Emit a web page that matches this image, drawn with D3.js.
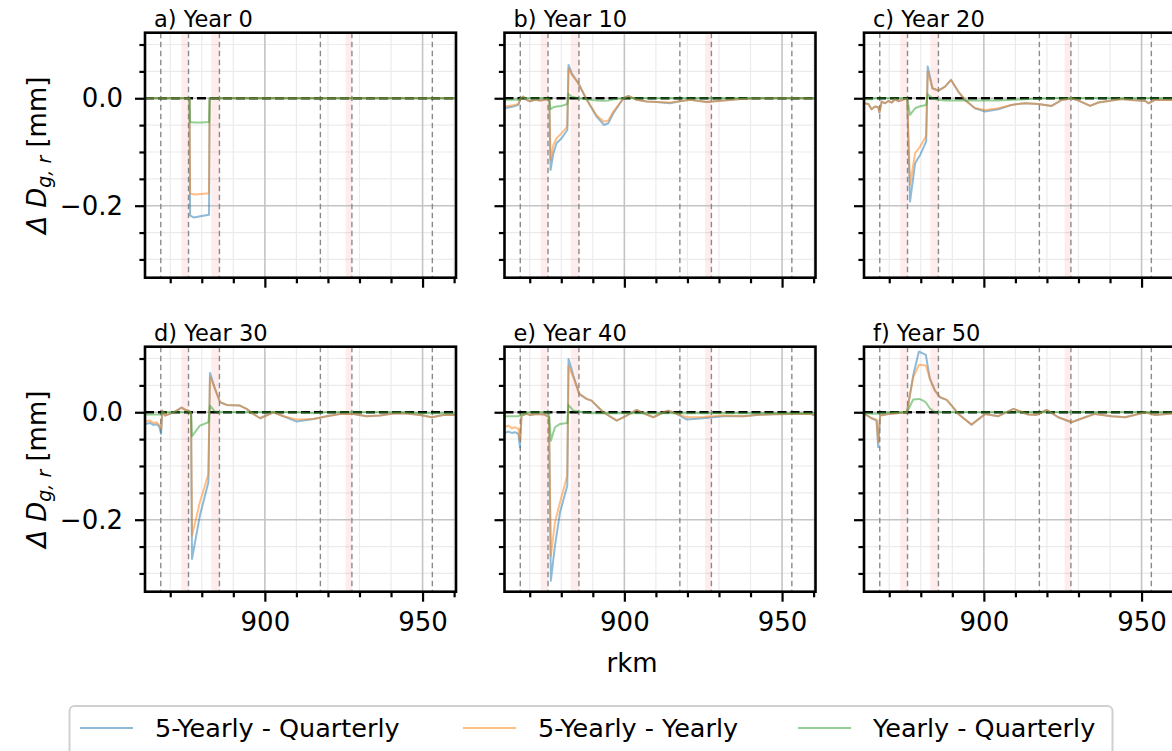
<!DOCTYPE html>
<html>
<head>
<meta charset="utf-8">
<script src="https://cdn.jsdelivr.net/npm/d3@7"></script>
<style>
  body { margin: 0; background: #fff; }
  text { font-family: "DejaVu Sans", sans-serif; }
</style>
</head>
<body>
<script>
// ---- data ----
const seriesNames = ["5-Yearly - Quarterly", "5-Yearly - Yearly", "Yearly - Quarterly"];
const seriesColors = ["#1f77b4", "#ff7f0e", "#2ca02c"];
const panelTitles = ["a) Year 0", "b) Year 10", "c) Year 20", "d) Year 30", "e) Year 40", "f) Year 50"];

const dashedRkm = [867, 875.8, 885.6, 917.6, 927.6, 953.1];
const bandRkm = [[873.5, 875.8], [883.0, 885.6], [925.6, 927.6]];

const xMajor = [900, 950];
const xMinor = [870, 880, 890, 910, 920, 930, 940, 960];
const yMajor = [0, -0.2];
const yMinor = [0.1, 0.05, -0.05, -0.1, -0.15, -0.25, -0.3];

// year 0
const rkmA = [862, 876.1, 876.3, 877.5, 880, 882.3, 882.5, 960.6];
const blueA = [0, 0, -0.218, -0.222, -0.219, -0.217, 0, 0];
const orangeA = [0, 0, -0.177, -0.179, -0.178, -0.177, 0, 0];
const greenA = [0, 0, -0.044, -0.045, -0.045, -0.044, 0, 0];

// year 10
const rkmB = [862, 864.8, 866.4, 867.1, 868.0, 869.0, 870.1, 871.7, 873.3, 875.4, 876.2, 876.6, 877.5, 878.5, 880.1, 881.9, 882.3, 883.3, 885.4, 888.0, 891.2, 893.5, 894.9, 896.5, 899.7, 901.3, 903.9, 907.1, 910.2, 914.5, 917.6, 920.8, 926.1, 931.4, 936.7, 942.0, 947.2, 952.5, 960.6];
const blueB = [-0.0186, -0.0155, -0.0124, 0, 0.003, -0.003, -0.0056, -0.003, -0.0043, -0.0019, -0.003, -0.1335, -0.1024, -0.0838, -0.0745, -0.059, 0.062, 0.0466, 0.028, -0.0019, -0.034, -0.0497, -0.0466, -0.028, 0, 0.0043, -0.003, -0.0062, -0.0068, -0.0093, -0.0056, -0.003, -0.0068, -0.0043, -0.0012, 0, 0, 0.0006, -0.0006];
const orangeB = [-0.0155, -0.013, -0.0105, 0, 0.003, -0.003, -0.0056, -0.003, -0.0043, -0.0019, -0.003, -0.1148, -0.087, -0.0745, -0.065, -0.0528, 0.0559, 0.0435, 0.028, -0.0019, -0.032, -0.0435, -0.0416, -0.0248, 0, 0.0043, -0.003, -0.0062, -0.0068, -0.008, -0.0056, -0.003, -0.0068, -0.0043, -0.0012, 0, 0, 0.0006, -0.0006];
const greenB = [-0.003, -0.003, -0.003, 0, 0, 0, 0, 0, 0, 0, 0, -0.0205, -0.0168, -0.0155, -0.0143, -0.0106, 0.0081, 0.003, 0, -0.002, -0.004, -0.0045, -0.0043, -0.002, 0, 0, 0, 0, 0, 0, 0, 0, 0, 0, 0, 0, 0, 0, 0];

// year 20
const rkmC = [862, 863.4, 864.4, 865.5, 866.5, 866.9, 867.6, 868.7, 869.7, 870.8, 871.8, 872.9, 875.0, 875.7, 876.6, 878.2, 879.8, 881.7, 882.2, 883.7, 885.6, 887.7, 889.6, 891.9, 894.0, 897.2, 900.4, 904.6, 908.8, 913.0, 917.3, 921.5, 924.7, 927.8, 930.0, 933.7, 936.3, 940.5, 943.7, 946.9, 951.1, 952.2, 954.3, 960.6];
const blueC = [-0.0093, -0.0106, -0.0205, -0.0155, -0.0168, -0.0267, -0.0062, -0.0093, -0.005, -0.008, -0.0019, -0.0056, -0.0012, -0.0012, -0.1924, -0.121, -0.1055, -0.0807, 0.059, 0.0186, 0.0143, 0.0217, 0.0341, 0.0124, -0.0031, -0.0186, -0.0248, -0.0205, -0.0124, -0.0093, -0.0106, -0.0143, -0.0031, 0, -0.0043, -0.0143, -0.008, -0.0043, -0.0012, -0.0031, -0.005, -0.0093, -0.0031, -0.0031];
const orangeC = [-0.0093, -0.0106, -0.0205, -0.0155, -0.0168, -0.0267, -0.0062, -0.0093, -0.005, -0.008, -0.0019, -0.0056, -0.0012, -0.0012, -0.1614, -0.1024, -0.09, -0.0701, 0.0497, 0.0186, 0.0143, 0.0217, 0.0341, 0.0124, -0.0031, -0.0186, -0.0217, -0.0186, -0.0124, -0.0093, -0.0106, -0.0143, -0.0031, 0, -0.0043, -0.0143, -0.008, -0.0043, -0.0012, -0.0031, -0.005, -0.0093, -0.0031, -0.0031];
const greenC = [-0.002, -0.002, -0.002, 0, 0, 0, 0, 0, 0, 0, 0, 0, 0, 0, -0.031, -0.0186, -0.015, -0.0124, 0.0074, 0, -0.003, -0.0043, -0.0043, -0.0043, -0.0043, -0.0043, -0.0043, -0.0043, -0.003, -0.002, -0.001, 0, 0, 0, 0, 0, 0, 0, 0, 0, 0, 0, 0, 0];

// year 30
const rkmD = [862, 863.6, 864.6, 865.7, 866.5, 867.1, 867.5, 868.3, 869.9, 872.0, 873.6, 874.7, 876.3, 876.6, 876.9, 879.4, 882.1, 882.6, 884.2, 885.8, 887.9, 892.1, 894.2, 896.3, 898.5, 902.7, 905.9, 910.1, 915.4, 919.6, 923.8, 928.1, 932.3, 936.5, 940.7, 945.0, 949.2, 952.9, 956.6, 960.6];
const blueD = [-0.0217, -0.0199, -0.0236, -0.0223, -0.0267, -0.0403, 0.0031, -0.0062, -0.0031, 0.0031, 0.0087, 0.005, 0.0012, -0.0031, -0.2731, -0.1924, -0.1304, 0.0732, 0.0435, 0.0186, 0.0137, 0.0124, 0.0062, -0.0031, -0.0112, 0, -0.0074, -0.0174, -0.0124, -0.0074, -0.0031, -0.0031, -0.0074, -0.0062, -0.0025, -0.0025, -0.005, -0.0093, -0.005, -0.005];
const orangeD = [-0.0174, -0.0155, -0.0199, -0.0186, -0.0236, -0.031, 0.0031, -0.0062, -0.0031, 0.0031, 0.0087, 0.005, 0.0012, -0.0031, -0.2297, -0.1676, -0.1148, 0.0652, 0.0435, 0.0186, 0.0137, 0.0124, 0.0062, -0.0031, -0.0112, 0, -0.0074, -0.0137, -0.0124, -0.0074, -0.0031, -0.0031, -0.0074, -0.0062, -0.0025, -0.0025, -0.005, -0.0093, -0.005, -0.005];
const greenD = [-0.0043, -0.0043, -0.0043, -0.0043, -0.0043, -0.0043, 0, 0, 0, 0, 0, 0, 0, 0, -0.0447, -0.0248, -0.0186, 0.0124, 0.0012, 0, 0, 0, 0, 0, 0, 0, 0, 0, -0.002, 0, 0, 0, 0, 0, 0, 0, -0.002, -0.002, -0.002, -0.002];

// year 40
const rkmE = [862, 863.2, 864.3, 865.3, 866.4, 866.9, 867.4, 869.0, 870.1, 872.2, 874.8, 876.1, 876.7, 878.0, 879.6, 881.9, 882.3, 883.8, 885.7, 888.0, 889.6, 893.3, 897.6, 900.7, 903.9, 906.5, 909.2, 912.4, 913.9, 916.6, 919.8, 925.0, 931.4, 937.7, 941.9, 947.2, 952.5, 958.9, 960.6];
const blueE = [-0.0385, -0.036, -0.0385, -0.0372, -0.0403, -0.0652, -0.0062, -0.0031, -0.005, -0.0031, -0.0043, -0.0093, -0.3135, -0.2483, -0.1862, -0.1366, 0.0993, 0.0683, 0.0341, 0.0248, 0.0217, 0, -0.0155, -0.0062, 0.0043, -0.0031, -0.0093, 0, 0.0031, -0.0031, -0.0137, -0.0112, -0.0074, -0.0074, -0.005, -0.0037, -0.0031, -0.0031, -0.0062];
const orangeE = [-0.0279, -0.0248, -0.0298, -0.0279, -0.031, -0.0528, -0.0062, -0.0031, -0.005, -0.0031, -0.0043, -0.0093, -0.2669, -0.2048, -0.1676, -0.1179, 0.0857, 0.0652, 0.0341, 0.0248, 0.0217, 0, -0.0155, -0.0062, 0.0043, -0.0031, -0.0093, 0, 0.0031, -0.0031, -0.0093, -0.0087, -0.0062, -0.0074, -0.005, -0.0037, -0.0031, -0.0031, -0.0062];
const greenE = [-0.0074, -0.0074, -0.0074, -0.0074, -0.0074, -0.006, -0.003, -0.0012, 0, 0, 0, 0, -0.0528, -0.0279, -0.0217, -0.0199, 0.0137, 0.0031, 0.001, 0, -0.002, -0.002, -0.002, -0.002, -0.002, -0.002, -0.002, -0.002, -0.002, -0.002, -0.002, -0.002, -0.002, -0.002, -0.002, -0.002, -0.002, -0.002, -0.002];

// year 50
const rkmF = [862, 863.4, 864.4, 866.0, 866.5, 867.1, 869.7, 872.9, 875.6, 877.6, 879.4, 880.3, 881.6, 882.9, 884.5, 886.1, 888.2, 889.8, 891.9, 896.1, 900.4, 904.6, 909.4, 914.1, 916.7, 919.9, 923.6, 927.8, 932.1, 935.2, 940.5, 944.8, 949.0, 951.1, 954.3, 960.6];
const blueF = [-0.0031, -0.0074, -0.0112, -0.0155, -0.0652, -0.0062, -0.0031, -0.0012, 0, 0.0683, 0.113, 0.1105, 0.1068, 0.0621, 0.0403, 0.0279, 0.023, 0.0124, -0.0031, -0.023, -0.0031, -0.0074, 0.0062, -0.0043, -0.005, 0.0043, -0.0093, -0.0186, -0.0093, -0.0031, -0.0074, -0.0093, -0.0031, 0, -0.005, -0.0019];
const orangeF = [-0.0031, -0.0074, -0.0112, -0.0137, -0.0559, -0.0062, -0.0031, -0.0012, 0, 0.0652, 0.0881, 0.0881, 0.0869, 0.0621, 0.0403, 0.0279, 0.023, 0.0124, -0.0031, -0.023, -0.0031, -0.0074, 0.0062, -0.0043, -0.005, 0.0043, -0.0093, -0.0186, -0.0093, -0.0031, -0.0074, -0.0093, -0.0031, 0, -0.005, -0.0019];
const greenF = [-0.0019, -0.002, -0.003, -0.003, -0.003, -0.0012, 0, 0, 0, 0.0236, 0.0248, 0.023, 0.0186, 0.007, 0, 0, 0, 0, 0, 0, 0, 0, 0, 0, 0, 0, 0, 0, 0, 0, 0, 0, 0, 0, 0, 0];

const panels = [
  [rkmA, blueA, orangeA, greenA],
  [rkmB, blueB, orangeB, greenB],
  [rkmC, blueC, orangeC, greenC],
  [rkmD, blueD, orangeD, greenD],
  [rkmE, blueE, orangeE, greenE],
  [rkmF, blueF, orangeF, greenF]
];

// ---- layout ----
const width = 1172, height = 751;
const pw = 311, ph = 245;
const lefts = [145, 504.5, 864];
const tops = [32.7, 346.7];

const svg = d3.select("body").append("svg")
  .attr("width", width).attr("height", height);
svg.append("rect").attr("width", width).attr("height", height).attr("fill", "#fff");

const x = d3.scaleLinear().domain([862, 960.6]).range([0, pw]);
const y = d3.scaleLinear().domain([-0.334, 0.122]).range([ph, 0]);

const line = d3.line().x(d => x(d[0])).y(d => y(d[1]));

svg.append("defs").append("clipPath").attr("id", "clip")
  .append("rect").attr("width", pw).attr("height", ph);

panels.forEach(function(p, i) {
  let col = i % 3, row = Math.floor(i / 3);
  let g = svg.append("g").attr("transform", `translate(${lefts[col]},${tops[row]})`);
  let inner = g.append("g").attr("clip-path", "url(#clip)");

  // minor grid
  inner.selectAll(".gxm").data(xMinor).enter().append("line")
    .attr("x1", d => x(d)).attr("x2", d => x(d)).attr("y1", 0).attr("y2", ph)
    .attr("stroke", "#ebebeb").attr("stroke-width", 1.2);
  inner.selectAll(".gym").data(yMinor).enter().append("line")
    .attr("y1", d => y(d)).attr("y2", d => y(d)).attr("x1", 0).attr("x2", pw)
    .attr("stroke", "#ebebeb").attr("stroke-width", 1.2);

  // shaded reaches
  inner.selectAll(".band").data(bandRkm).enter().append("rect")
    .attr("x", d => x(d[0])).attr("width", d => x(d[1]) - x(d[0]))
    .attr("y", 0).attr("height", ph)
    .attr("fill", "#ff0000").attr("opacity", 0.07);

  // major grid
  inner.selectAll(".gx").data(xMajor).enter().append("line")
    .attr("x1", d => x(d)).attr("x2", d => x(d)).attr("y1", 0).attr("y2", ph)
    .attr("stroke", "#c4c4c4").attr("stroke-width", 1.6);
  inner.selectAll(".gy").data(yMajor).enter().append("line")
    .attr("y1", d => y(d)).attr("y2", d => y(d)).attr("x1", 0).attr("x2", pw)
    .attr("stroke", "#c4c4c4").attr("stroke-width", 1.6);

  // dashed vertical markers
  inner.selectAll(".vd").data(dashedRkm).enter().append("line")
    .attr("x1", d => x(d)).attr("x2", d => x(d)).attr("y1", 0).attr("y2", ph)
    .attr("stroke", "#8a8a8a").attr("stroke-width", 1.4)
    .attr("stroke-dasharray", "5.5,3.5");

  // zero line
  inner.append("line")
    .attr("x1", 0).attr("x2", pw).attr("y1", y(0)).attr("y2", y(0))
    .attr("stroke", "#000").attr("stroke-width", 2.4)
    .attr("stroke-dasharray", "9,4");

  // series
  [1, 2, 3].forEach(function(k) {
    let pts = p[0].map((r, j) => [r, p[k][j]]);
    inner.append("path").datum(pts)
      .attr("d", line)
      .attr("fill", "none")
      .attr("stroke", seriesColors[k - 1])
      .attr("stroke-width", 2)
      .attr("stroke-linejoin", "round")
      .attr("opacity", 0.5);
  });

  // axes
  let xAxis = d3.axisBottom(x).tickValues(xMajor).tickSize(10).tickPadding(11)
    .tickFormat(row === 1 ? d3.format("d") : () => "");
  let xAxisMinor = d3.axisBottom(x).tickValues(xMinor).tickSize(5.6).tickFormat(() => "");
  let yAxis = d3.axisLeft(y).tickValues(yMajor).tickSize(10).tickPadding(12)
    .tickFormat(col === 0 ? (d => d === 0 ? "0.0" : "\u22120.2") : () => "");
  let yAxisMinor = d3.axisLeft(y).tickValues(yMinor).tickSize(5.6).tickFormat(() => "");

  [xAxis, xAxisMinor].forEach(function(a) {
    let ag = g.append("g").attr("transform", `translate(0,${ph})`).call(a);
    ag.select(".domain").remove();
    ag.selectAll(".tick line").attr("stroke", "#000").attr("stroke-width", 2.2);
    ag.selectAll("text").attr("fill", "#000").style("font-size", "26px")
      .style("font-family", "DejaVu Sans");
  });
  [yAxis, yAxisMinor].forEach(function(a) {
    let ag = g.append("g").call(a);
    ag.select(".domain").remove();
    ag.selectAll(".tick line").attr("stroke", "#000").attr("stroke-width", 2.2);
    ag.selectAll("text").attr("fill", "#000").style("font-size", "26px")
      .style("font-family", "DejaVu Sans");
  });

  // frame
  g.append("rect").attr("width", pw).attr("height", ph)
    .attr("fill", "none").attr("stroke", "#000").attr("stroke-width", 2.6);

  // title
  g.append("text").attr("x", 9).attr("y", -6)
    .style("font-size", "22.5px").attr("fill", "#000")
    .text(panelTitles[i]);
});

// y labels
tops.forEach(function(t) {
  let lab = svg.append("text")
    .attr("transform", `translate(46,${t + ph / 2}) rotate(-90)`)
    .attr("text-anchor", "middle")
    .style("font-size", "26px").attr("fill", "#000");
  lab.append("tspan").style("font-style", "italic").text("\u0394 D");
  lab.append("tspan").style("font-style", "italic").style("font-size", "19px")
    .attr("dy", 5).text("g, r");
  lab.append("tspan").attr("dy", -5).text(" [mm]");
});

// x label
svg.append("text").attr("x", 632).attr("y", 672)
  .attr("text-anchor", "middle").style("font-size", "26px").attr("fill", "#000")
  .text("rkm");

// legend
let leg = svg.append("g");
leg.append("rect").attr("x", 69.5).attr("y", 706).attr("width", 1043).attr("height", 70)
  .attr("rx", 5).attr("fill", "#fff").attr("stroke", "#d0d0d0").attr("stroke-width", 2);
const legLineX = [80, 463, 798];
seriesNames.forEach(function(n, i) {
  leg.append("line").attr("x1", legLineX[i]).attr("x2", legLineX[i] + 53)
    .attr("y1", 728).attr("y2", 728)
    .attr("stroke", seriesColors[i]).attr("stroke-width", 2).attr("opacity", 0.5);
  leg.append("text").attr("x", legLineX[i] + 75).attr("y", 737)
    .style("font-size", "25.5px").attr("fill", "#000").text(n);
});
</script>
</body>
</html>
